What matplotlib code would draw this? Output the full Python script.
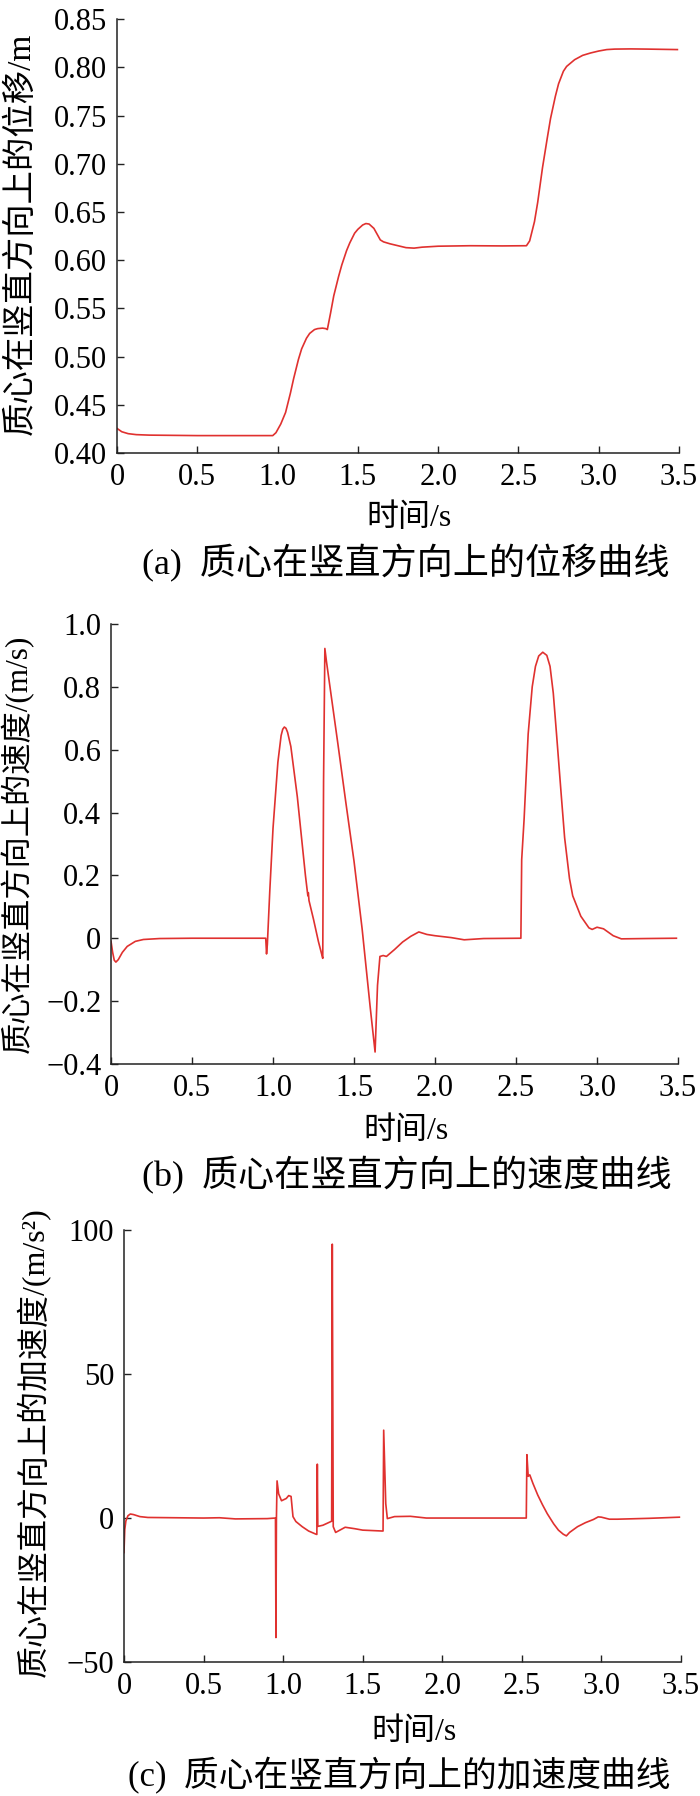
import matplotlib
matplotlib.use("Agg")
import matplotlib.pyplot as plt

# --- data ---
x_ticks = [0, 0.5, 1.0, 1.5, 2.0, 2.5, 3.0, 3.5]
x_tick_labels = ['0', '0.5', '1.0', '1.5', '2.0', '2.5', '3.0', '3.5']

# (a) displacement
t_a = [0, 0.03, 0.07, 0.12, 0.2, 0.5, 0.8, 0.97, 0.99, 1.02, 1.05, 1.08, 1.1, 1.13,
       1.15, 1.18, 1.2, 1.23, 1.25, 1.28, 1.30, 1.31, 1.33, 1.35, 1.38, 1.4, 1.43,
       1.45, 1.48, 1.5, 1.53, 1.55, 1.57, 1.6, 1.62, 1.64, 1.66, 1.7, 1.75, 1.8,
       1.85, 1.9, 2.0, 2.2, 2.4, 2.55, 2.57, 2.6, 2.62, 2.65, 2.68, 2.7, 2.73, 2.75,
       2.78, 2.8, 2.85, 2.9, 2.95, 3.0, 3.05, 3.1, 3.2, 3.3, 3.49]
y_a = [0.4255, 0.422, 0.420, 0.419, 0.4185, 0.418, 0.418, 0.418, 0.421, 0.430, 0.442,
       0.462, 0.477, 0.497, 0.508, 0.519, 0.524, 0.528, 0.529, 0.5295, 0.529, 0.528,
       0.545, 0.563, 0.583, 0.595, 0.610, 0.618, 0.628, 0.632, 0.6365, 0.638, 0.6375,
       0.633, 0.627, 0.621, 0.619, 0.617, 0.615, 0.613, 0.6125, 0.6135, 0.6145, 0.615,
       0.6148, 0.615, 0.620, 0.640, 0.660, 0.696, 0.727, 0.747, 0.770, 0.783, 0.796,
       0.801, 0.808, 0.8125, 0.815, 0.817, 0.8185, 0.819, 0.8192, 0.819, 0.8185]
a_yticks = [0.40, 0.45, 0.50, 0.55, 0.60, 0.65, 0.70, 0.75, 0.80, 0.85]
a_ytick_labels = ['0.40', '0.45', '0.50', '0.55', '0.60', '0.65', '0.70', '0.75', '0.80', '0.85']

# (b) velocity
t_b = [0, 0.01, 0.02, 0.03, 0.045, 0.07, 0.1, 0.15, 0.2, 0.3, 0.5, 0.955, 0.96, 0.965,
       0.98, 1.0, 1.03, 1.05, 1.06, 1.07, 1.08, 1.09, 1.11, 1.15, 1.2, 1.215, 1.218,
       1.222, 1.25, 1.28, 1.3, 1.307, 1.312, 1.32, 1.33, 1.4, 1.45, 1.5, 1.55, 1.6,
       1.63, 1.645, 1.66, 1.68, 1.7, 1.75, 1.8, 1.85, 1.9, 1.95, 2.0, 2.1, 2.18, 2.3,
       2.53, 2.535, 2.55, 2.575, 2.6, 2.62, 2.64, 2.665, 2.69, 2.71, 2.73, 2.75, 2.78,
       2.8, 2.83, 2.85, 2.9, 2.95, 2.97, 3.0, 3.04, 3.1, 3.15, 3.3, 3.49]
v_b = [-0.01, -0.045, -0.07, -0.076, -0.068, -0.045, -0.026, -0.01, -0.004, -0.001, 0.0,
       0.0, -0.05, -0.02, 0.15, 0.35, 0.56, 0.645, 0.665, 0.672, 0.668, 0.655, 0.61,
       0.45, 0.2, 0.135, 0.145, 0.12, 0.06, -0.01, -0.05, -0.064, 0.5, 0.922, 0.88,
       0.62, 0.43, 0.245, 0.03, -0.22, -0.362, -0.15, -0.058, -0.055, -0.058, -0.036,
       -0.012, 0.006, 0.02, 0.012, 0.008, 0.002, -0.005, -0.001, 0.0, 0.25, 0.38, 0.65,
       0.8, 0.865, 0.898, 0.91, 0.9, 0.865, 0.78, 0.65, 0.45, 0.32, 0.19, 0.135, 0.07,
       0.033, 0.028, 0.035, 0.03, 0.008, -0.002, -0.001, 0.0]
b_yticks = [-0.4, -0.2, 0, 0.2, 0.4, 0.6, 0.8, 1.0]
b_ytick_labels = ['\u22120.4', '\u22120.2', '0', '0.2', '0.4', '0.6', '0.8', '1.0']

# (c) acceleration
t_c = [0, 0.005, 0.012, 0.025, 0.04, 0.06, 0.1, 0.15, 0.5, 0.6, 0.7, 0.9, 0.952, 0.955,
       0.958, 0.962, 0.972, 0.99, 1.02, 1.035, 1.05, 1.062, 1.08, 1.12, 1.16, 1.206,
       1.212, 1.215, 1.218, 1.25, 1.305, 1.309, 1.315, 1.33, 1.39, 1.45, 1.5, 1.62,
       1.628, 1.632, 1.645, 1.655, 1.7, 1.8, 1.9, 2.2, 2.528, 2.532, 2.54, 2.55, 2.57,
       2.6, 2.63, 2.66, 2.7, 2.73, 2.76, 2.78, 2.8, 2.85, 2.9, 2.95, 2.98, 3.0, 3.05,
       3.1, 3.3, 3.49]
a_c = [-12, -4, -1, 0.8, 1.4, 1.2, 0.5, 0.2, 0.0, 0.1, -0.3, -0.2, 0.0, -41.5, 0.0, 12.9,
       8.4, 6.0, 6.8, 7.8, 7.5, 0.5, -1.2, -3.0, -4.5, -5.6, -5.7, 18.7, -2.9, -2.5, -1.1,
       95.1, -3.0, -5.0, -3.2, -3.7, -4.2, -4.5, -4.5, 30.5, 5.0, -0.2, 0.5, 0.6, 0.0,
       0.0, 0.0, 22.0, 14.5, 15.0, 12.0, 8.0, 4.6, 1.5, -2.0, -4.2, -5.6, -6.2, -5.0,
       -3.0, -1.6, -0.5, 0.4, 0.3, -0.4, -0.4, -0.1, 0.3]
c_yticks = [-50, 0, 50, 100]
c_ytick_labels = ['\u221250', '0', '50', '100']

line_color = '#e0312f'
mixed = ['Liberation Serif', 'Noto Sans CJK SC']
tick_size = 22
xlabel_size = 23
caption_size = 26


def style_axes(ax, yticks, ylabels, ylim):
    ax.set_xlim(0, 3.5)
    ax.set_ylim(*ylim)
    ax.set_xticks(x_ticks)
    ax.set_xticklabels(x_tick_labels, fontfamily='Liberation Serif', fontsize=tick_size)
    ax.set_yticks(yticks)
    ax.set_yticklabels(ylabels, fontfamily='Liberation Serif', fontsize=tick_size)
    for s in ['top', 'right']:
        ax.spines[s].set_visible(False)
    for s in ['left', 'bottom']:
        ax.spines[s].set_linewidth(1.1)
        ax.spines[s].set_color('#222222')
    ax.tick_params(direction='in', length=5, width=1.0, color='#222222', pad=7)


fig = plt.figure(figsize=(7, 17.96), dpi=100)

ax1 = fig.add_axes([0.1671, 0.7478, 0.8029, 0.2415])
ax1.plot(t_a, y_a, color=line_color, lw=1.2)
style_axes(ax1, a_yticks, a_ytick_labels, (0.40, 0.85))
ax1.set_xlabel('时间/s', family=mixed, fontsize=xlabel_size)
ax1.set_ylabel('质心在竖直方向上的位移/m', family=mixed, fontsize=24)
ax1.xaxis.set_label_coords(0.52, -0.116)
ax1.yaxis.set_label_coords(-0.143, 0.505)

ax2 = fig.add_axes([0.1586, 0.4076, 0.81, 0.245])
ax2.plot(t_b, v_b, color=line_color, lw=1.2)
style_axes(ax2, b_yticks, b_ytick_labels, (-0.4, 1.0))
ax2.set_xlabel('时间/s', family=mixed, fontsize=xlabel_size)
ax2.set_ylabel('质心在竖直方向上的速度/(m/s)', family=mixed, fontsize=22.5)
ax2.xaxis.set_label_coords(0.52, -0.120)
ax2.yaxis.set_label_coords(-0.136, 0.5)

ax3 = fig.add_axes([0.1771, 0.0746, 0.7957, 0.2405])
ax3.plot(t_c, a_c, color=line_color, lw=1.2)
style_axes(ax3, c_yticks, c_ytick_labels, (-50, 100))
ax3.set_xlabel('时间/s', family=mixed, fontsize=xlabel_size)
ax3.set_ylabel('质心在竖直方向上的加速度/(m/s²)', family=mixed, fontsize=23)
ax3.xaxis.set_label_coords(0.52, -0.127)
ax3.yaxis.set_label_coords(-0.131, 0.51)

fig.text(142 / 700, 1 - 563 / 1796, '(a)  质心在竖直方向上的位移曲线', family=mixed,
         fontsize=caption_size, ha='left', va='center')
fig.text(142 / 700, 1 - 1175 / 1796, '(b)  质心在竖直方向上的速度曲线', family=mixed,
         fontsize=caption_size, ha='left', va='center')
fig.text(128 / 700, 1 - 1776 / 1796, '(c)  质心在竖直方向上的加速度曲线', family=mixed,
         fontsize=25, ha='left', va='center')

fig.savefig('out.png', dpi=100)
